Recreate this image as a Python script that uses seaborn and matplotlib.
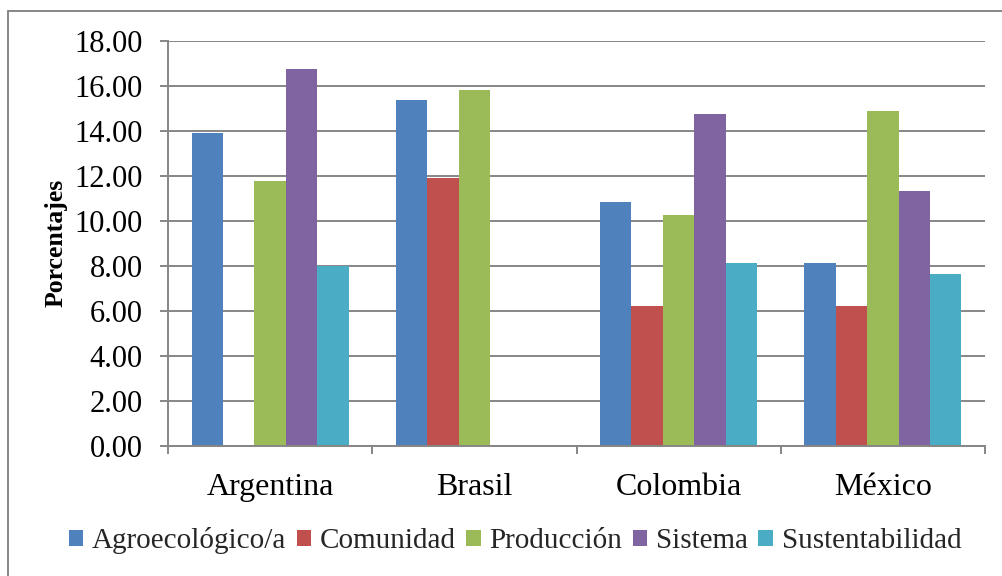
import numpy as np
import pandas as pd
import seaborn as sns
import matplotlib.pyplot as plt
from matplotlib.lines import Line2D
from matplotlib.ticker import FormatStrFormatter, FixedLocator

countries = ["Argentina", "Brasil", "Colombia", "México"]
series = ["Agroecológico/a", "Comunidad", "Producción", "Sistema", "Sustentabilidad"]
agroecologico = [13.90, 15.35, 10.83, 8.10]
comunidad = [0.00, 11.90, 6.21, 6.21]
produccion = [11.78, 15.81, 10.24, 14.87]
sistema = [16.76, 0.00, 14.74, 11.30]
sustentabilidad = [7.99, 0.00, 8.10, 7.63]
colors = ["#4F81BD", "#C0504D", "#9BBB59", "#8064A2", "#4BACC6"]
y_ticks = [0, 2, 4, 6, 8, 10, 12, 14, 16, 18]

wide = pd.DataFrame({
    "País": countries,
    series[0]: agroecologico,
    series[1]: comunidad,
    series[2]: produccion,
    series[3]: sistema,
    series[4]: sustentabilidad,
})
df = wide.melt(id_vars="País", var_name="Serie", value_name="Valor")

sns.set_theme(style="white")
plt.rcParams['font.family'] = ['Liberation Serif', 'DejaVu Serif']

W, H = 1002, 576
fig = plt.figure(figsize=(W / 100, H / 100), dpi=100)
L, R, T, B = 168, 985, 40.7, 445.7
ax = fig.add_axes([L / W, 1 - B / H, (R - L) / W, (B - T) / H])

sns.barplot(data=df, x="País", y="Valor", hue="Serie", order=countries,
            hue_order=series, palette=colors, width=5 / 6.5, saturation=1,
            linewidth=0, ax=ax)

ax.set_xlim(-0.5, 3.5)
ax.set_ylim(0, 18)
ax.set_yticks(y_ticks)
ax.yaxis.set_major_formatter(FormatStrFormatter("%.2f"))
ax.set_axisbelow(True)
ax.yaxis.grid(True, color="#868686", linewidth=1.4)
ax.xaxis.grid(False)

for s in ["top", "right"]:
    ax.spines[s].set_visible(False)
for s in ["left", "bottom"]:
    ax.spines[s].set_color("#868686")
    ax.spines[s].set_linewidth(1.4)

ax.tick_params(axis="y", which="major", direction="out", length=6, width=1.4,
               color="#868686", left=True, labelsize=22, pad=12, labelcolor="black")
ax.tick_params(axis="x", which="major", length=0, labelsize=23, pad=20, labelcolor="black")
ax.xaxis.set_minor_locator(FixedLocator([-0.5, 0.5, 1.5, 2.5, 3.5]))
ax.tick_params(axis="x", which="minor", direction="out", length=6, width=1.4,
               color="#868686", bottom=True)
ax.set_xlabel("")
ax.set_ylabel("")
fig.text(56 / W, 1 - 243 / H, "Porcentajes", rotation=90, ha="center", va="center",
         fontsize=18.5, fontweight="bold", color="black")

handles, labels = ax.get_legend_handles_labels()
ax.get_legend().remove()
fig.legend(handles, labels, loc="center", bbox_to_anchor=(515 / W, 1 - 541 / H),
           ncol=5, frameon=False, fontsize=21, handlelength=0.5, handleheight=0.5,
           handletextpad=0.3, columnspacing=0.35, borderpad=0, borderaxespad=0)

fig.add_artist(Line2D([8 / W, 8 / W], [-0.1, 1 - 11 / H], transform=fig.transFigure,
                      color="#868686", linewidth=1.4))
fig.add_artist(Line2D([8 / W, 1.1], [1 - 11 / H, 1 - 11 / H], transform=fig.transFigure,
                      color="#868686", linewidth=1.4))

fig.savefig("out.png", dpi=100)
